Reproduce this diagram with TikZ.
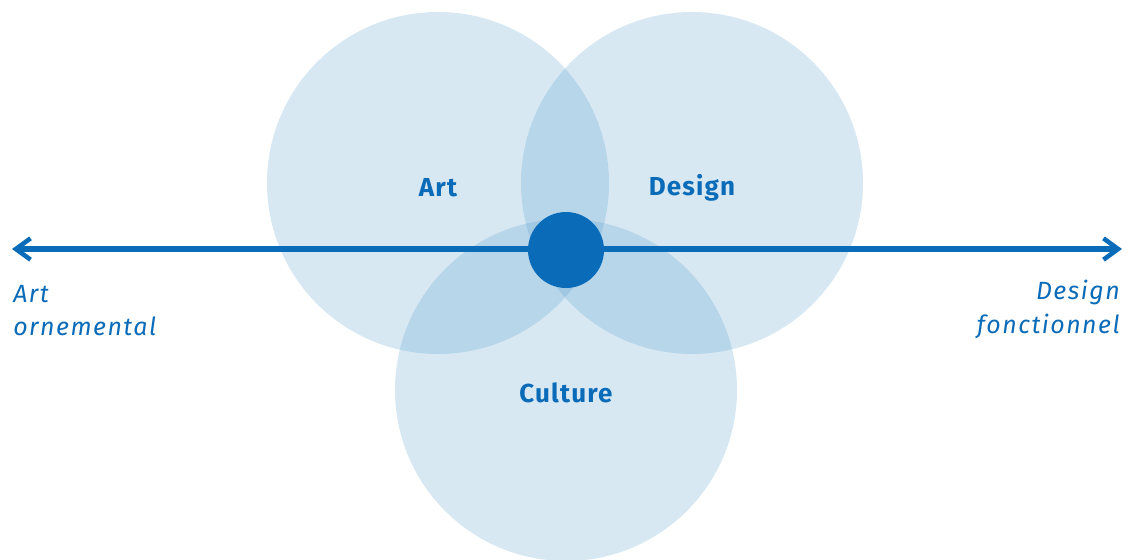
\documentclass[tikz,border=0pt]{standalone}
\usepackage{fontspec}
\setmainfont{Fira Sans}
\newfontfamily\sidefont[LetterSpace=6.0]{Fira Sans}
\newfontfamily\labelfont[LetterSpace=4.5]{Fira Sans}
\usetikzlibrary{arrows.meta}
\definecolor{mainblue}{RGB}{10,107,184}
\definecolor{circblue}{RGB}{82,155,204}
\begin{document}
\begin{tikzpicture}[x=0.75pt,y=-0.75pt,
  venn/.style={circle,fill=circblue,fill opacity=0.23,draw=none,minimum size=342*0.75pt,inner sep=0pt},
  biglabel/.style={text=mainblue,font=\labelfont\fontsize{19.5}{22}\selectfont\bfseries},
  sidelabel/.style={text=mainblue,font=\sidefont\fontsize{18.7}{25}\selectfont\itshape,inner sep=0pt},
  axis/.style={draw=mainblue,line width=3.8pt,{Straight Barb[length=11pt,width=16pt,line width=3.4pt]}-{Straight Barb[length=11pt,width=16pt,line width=3.4pt]}}
]
\useasboundingbox (0,0) rectangle (1128,560);
\node[venn] (art) at (438,183) {};
\node[venn] (design) at (692,183) {};
\node[venn] (culture) at (566,390) {};
\coordinate (L) at (12,249);
\coordinate (R) at (1122,249);
\draw[axis] (L) -- (R);
\node[circle,fill=mainblue,minimum size=76*0.75pt,inner sep=0pt] (core) at (566,250) {};
\node[biglabel] (tart) at (438,188) {Art};
\node[biglabel] (tdesign) at (692,188) {Design};
\node[biglabel] (tculture) at (566,393) {Culture};
\node[sidelabel,anchor=north west,align=left] (tleft) at (13,285) {Art\\ornemental};
\node[sidelabel,anchor=north east,align=right] (tright) at (1120,280) {Design\\fonctionnel};
\end{tikzpicture}
\end{document}
